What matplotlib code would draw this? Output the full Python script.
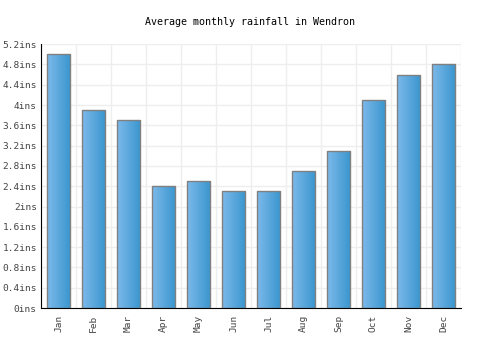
import matplotlib
matplotlib.use("Agg")
import matplotlib.pyplot as plt
import numpy as np

months = ["Jan", "Feb", "Mar", "Apr", "May", "Jun", "Jul", "Aug", "Sep", "Oct", "Nov", "Dec"]
rainfall = [5.0, 3.9, 3.7, 2.4, 2.5, 2.3, 2.3, 2.7, 3.1, 4.1, 4.6, 4.8]
yticks = [0, 0.4, 0.8, 1.2, 1.6, 2.0, 2.4, 2.8, 3.2, 3.6, 4.0, 4.4, 4.8, 5.2]
ytick_labels = ["0ins", "0.4ins", "0.8ins", "1.2ins", "1.6ins", "2ins", "2.4ins",
                "2.8ins", "3.2ins", "3.6ins", "4ins", "4.4ins", "4.8ins", "5.2ins"]

plt.rcParams["font.family"] = "DejaVu Sans Mono"

fig = plt.figure(figsize=(5, 3.5), dpi=100)
ax = fig.add_axes([0.082, 0.12, 0.84, 0.754])

x = np.arange(len(months))
bars = ax.bar(x, rainfall, width=0.66, color="none", edgecolor="#808080",
              linewidth=1, zorder=3)

# horizontal gradient inside each bar
grad = np.linspace(0, 1, 64).reshape(1, -1)
cmap = matplotlib.colors.LinearSegmentedColormap.from_list("g", ["#7db9ea", "#3996cf"])
for b in bars:
    bx, by = b.get_x(), b.get_y()
    im = ax.imshow(grad, cmap=cmap, aspect="auto", zorder=2,
                   extent=[bx, bx + b.get_width(), by, by + b.get_height()])
    im.set_clip_path(b)

ax.set_xlim(-0.5, len(months) - 0.5)
ax.set_ylim(0, 5.2)
ax.set_yticks(yticks)
ax.set_yticklabels(ytick_labels)
ax.set_xticks(x)
ax.set_xticklabels(months, rotation=90)

ax.set_xticks(np.arange(-0.5, len(months), 1), minor=True)
ax.grid(True, which="minor", axis="x", color="#eeeeee", linewidth=1, zorder=0)
ax.grid(True, which="major", axis="y", color="#eeeeee", linewidth=1, zorder=0)
ax.tick_params(which="both", length=0, labelsize=6.8, colors="#444444")
ax.tick_params(axis="y", pad=3)
ax.tick_params(axis="x", pad=5)

for s in ["top", "right"]:
    ax.spines[s].set_visible(False)
ax.spines["left"].set_color("black")
ax.spines["bottom"].set_color("black")

fig.text(0.5, 0.937, "Average monthly rainfall in Wendron", ha="center", va="center",
         fontsize=7.2, color="black")

fig.savefig("out.png", dpi=100)
